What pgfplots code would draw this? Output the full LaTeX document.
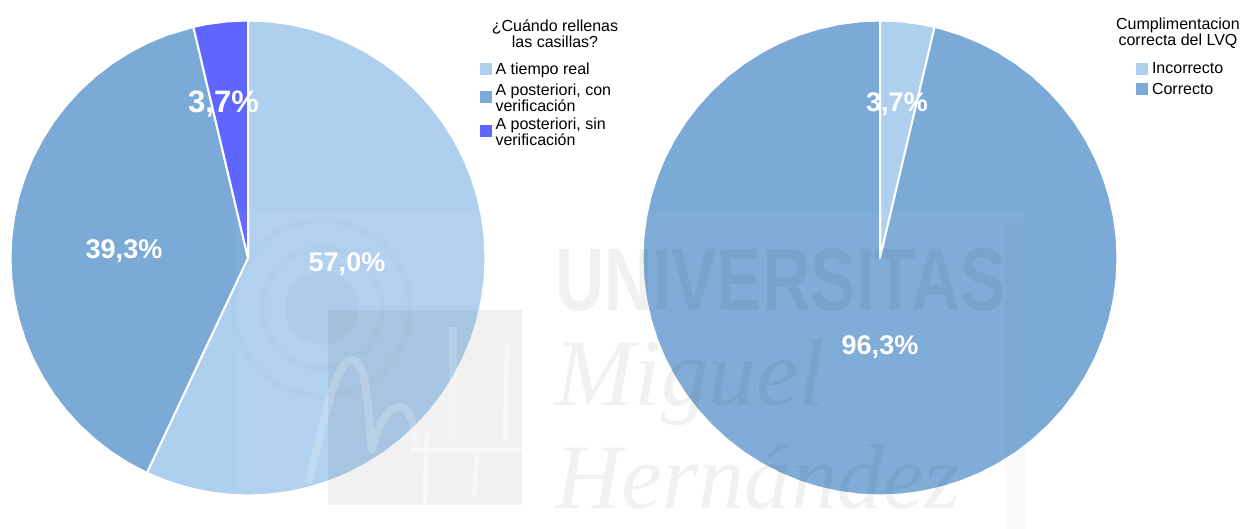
\documentclass[border=0pt]{standalone}
\usepackage{fontspec}
\usepackage{graphicx}
\usepackage{pgfplots}
\pgfplotsset{compat=1.18}
\setmainfont{Liberation Sans}
\newfontfamily\wmfont{Liberation Serif}
\definecolor{lightb}{HTML}{AECFEE}
\definecolor{midb}{HTML}{7BAAD6}
\definecolor{violetb}{HTML}{5F66FF}
\newcommand{\lf}{\fontsize{16bp}{16bp}\selectfont}
\newcommand{\twol}[2]{\parbox[c]{120bp}{\lf\baselineskip=16bp #1\\#2\rule[-12bp]{0pt}{12bp}}}
\pgfplotsset{pie/.style={
  hide axis, scale only axis, width=475bp, height=475bp, anchor=center,
  xmin=-1, xmax=1, ymin=-1, ymax=1, clip=false,
  legend image code/.code={\fill[##1,draw=none] (0bp,-6bp) rectangle (12bp,6bp);},
  legend cell align=left,
  legend style={draw=none, fill=none, anchor=north west, inner sep=0pt, outer sep=0pt,
    font=\lf, row sep=8.5bp, column sep=4bp,
    nodes={inner sep=0pt, outer sep=0pt}},
  every axis plot/.append style={line join=round},
}}
\begin{document}
\begin{tikzpicture}
\path[use as bounding box] (0bp,0bp) rectangle (1241bp,-529bp);

% left pie
\begin{axis}[pie, at={(248bp,-258bp)}, legend style={at={(0.9874,0.9116)}}]
\addplot[data cs=polar, fill=lightb, draw=white, line width=2bp, mark=none] coordinates {
(0,0)(90,1)(85,1)(80,1)(75,1)(70,1)(65,1)(60,1)(55,1)(50,1)(45,1)(40,1)(35,1)(30,1)(25,1)(20,1)(15,1)(10,1)(5,1)(0,1)
(-5,1)(-10,1)(-15,1)(-20,1)(-25,1)(-30,1)(-35,1)(-40,1)(-45,1)(-50,1)(-55,1)(-60,1)(-65,1)(-70,1)(-75,1)(-80,1)(-85,1)(-90,1)
(-95,1)(-100,1)(-105,1)(-110,1)(-115.2,1)} -- cycle;
\addlegendentry{A tiempo real}
\addplot[data cs=polar, fill=midb, draw=white, line width=2bp, mark=none] coordinates {
(0,0)(-115.2,1)(-120,1)(-125,1)(-130,1)(-135,1)(-140,1)(-145,1)(-150,1)(-155,1)(-160,1)(-165,1)(-170,1)(-175,1)(-180,1)
(-185,1)(-190,1)(-195,1)(-200,1)(-205,1)(-210,1)(-215,1)(-220,1)(-225,1)(-230,1)(-235,1)(-240,1)(-245,1)(-250,1)(-256.7,1)} -- cycle;
\addlegendentry{\twol{A posteriori, con}{verificación}}
\addplot[data cs=polar, fill=violetb, draw=white, line width=2bp, mark=none] coordinates {
(0,0)(-256.7,1)(-260,1)(-265,1)(-270,1)} -- cycle;
\addlegendentry{\twol{A posteriori, sin}{verificación}}
\end{axis}

% right pie
\begin{axis}[pie, at={(880bp,-258bp)}, legend style={at={(1.0,0.9107)}, xshift=18.5bp, row sep=7.5bp}]
\addplot[data cs=polar, fill=lightb, draw=white, line width=2bp, mark=none] coordinates {
(0,0)(90,1)(85,1)(80,1)(76.7,1)} -- cycle;
\addlegendentry{Incorrecto}
\addplot[data cs=polar, fill=midb, draw=white, line width=2bp, mark=none] coordinates {
(0,0)(76.7,1)(75,1)(70,1)(65,1)(60,1)(55,1)(50,1)(45,1)(40,1)(35,1)(30,1)(25,1)(20,1)(15,1)(10,1)(5,1)(0,1)
(-5,1)(-10,1)(-15,1)(-20,1)(-25,1)(-30,1)(-35,1)(-40,1)(-45,1)(-50,1)(-55,1)(-60,1)(-65,1)(-70,1)(-75,1)(-80,1)(-85,1)(-90,1)
(-95,1)(-100,1)(-105,1)(-110,1)(-115,1)(-120,1)(-125,1)(-130,1)(-135,1)(-140,1)(-145,1)(-150,1)(-155,1)(-160,1)(-165,1)(-170,1)(-175,1)(-180,1)
(-185,1)(-190,1)(-195,1)(-200,1)(-205,1)(-210,1)(-215,1)(-220,1)(-225,1)(-230,1)(-235,1)(-240,1)(-245,1)(-250,1)(-255,1)(-260,1)(-265,1)(-270,1)} -- cycle;
\addlegendentry{Correcto}
\end{axis}

\begin{scope}[x=1bp,y=-1bp]
% watermark
\fill[white,opacity=.045] (235,212) rectangle (1025,529);
\fill[black,opacity=.02] (1005,225) rectangle (1025,529);
\fill[black,opacity=.055] (328,310) rectangle (522,505);
\fill[black,opacity=.02] (322,308) circle (37);
\draw[black,opacity=.012,line width=6] (322,308) circle (60);
\draw[black,opacity=.012,line width=6] (322,308) circle (88);
\draw[white,opacity=.2,line width=8,line join=round]
  (308,483) .. controls (325,420) and (335,360) .. (352,360) .. controls (368,360) and (368,420) .. (372,450)
  .. controls (378,425) and (388,407) .. (400,407) .. controls (412,407) and (415,430) .. (415,450);
\draw[white,opacity=.2,line width=8] (453,327) -- (453,440);
\draw[white,opacity=.4,line width=5] (507,343) -- (505,440);
\draw[white,opacity=.4,line width=5] (410,450) -- (533,450);
\draw[white,opacity=.4,line width=5] (427,433) -- (424,520);
\draw[white,opacity=.4,line width=5] (477,453) -- (474,497);
\node[anchor=north west,inner sep=0,black,opacity=.055] at (555,248)
  {\resizebox{450bp}{62bp}{\bfseries UNIVERSITAS}};
\node[anchor=base west,inner sep=0,black,opacity=.055] at (555,405)
  {\resizebox{270bp}{!}{\wmfont\itshape Miguel}};
\node[anchor=base west,inner sep=0,black,opacity=.055] at (555,508)
  {\resizebox{405bp}{!}{\wmfont\itshape Hernández}};
% data labels
\foreach \x/\y/\t in {347/264/{57,0\%},124/251/{39,3\%},880/347/{96,3\%},897/104/{3,7\%}}
  \node[white,font=\fontsize{27bp}{27bp}\selectfont\bfseries,inner sep=0] at (\x,\y) {\t};
\node[white,font=\fontsize{31bp}{31bp}\selectfont\bfseries,inner sep=0] at (223.5,104) {3,7\%};
% legend titles
\node[font=\lf,align=center,inner sep=0] at (555,33.5) {¿Cuándo rellenas\\[0pt]las casillas?};
\node[font=\lf,align=center,inner sep=0] at (1178,33.5) {Cumplimentacion\\[0pt]correcta del LVQ};
\end{scope}
\end{tikzpicture}
\end{document}
